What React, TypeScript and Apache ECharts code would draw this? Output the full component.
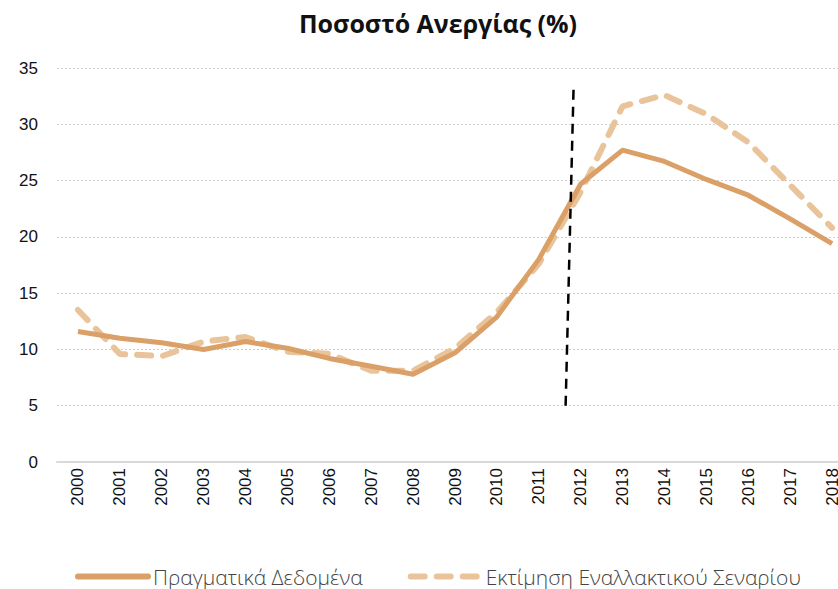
import React, { useEffect, useRef } from "react";
import * as echarts from "echarts";

const years = ["2000","2001","2002","2003","2004","2005","2006","2007","2008","2009","2010","2011","2012","2013","2014","2015","2016","2017","2018"];
const actual = [11.6, 11.0, 10.6, 10.0, 10.7, 10.1, 9.2, 8.5, 7.8, 9.7, 12.9, 18.0, 24.7, 27.7, 26.7, 25.1, 23.7, 21.6, 19.4];
const scenario = [13.5, 9.6, 9.4, 10.7, 11.1, 9.8, 9.6, 8.1, 8.1, 10.1, 13.3, 17.6, 24.0, 31.6, 32.6, 30.9, 28.4, 24.6, 20.8];
// vertical separator (x as fractional category index, y value)
const separator = [[11.64, 5.0], [11.83, 33.2]];
const titleText = "Ποσοστό Ανεργίας (%)";
const seriesNames = ["Πραγματικά Δεδομένα", "Εκτίμηση Εναλλακτικού Σεναρίου"];

export default function App() {
  const ref = useRef<HTMLDivElement>(null);
  useEffect(() => {
    const chart = echarts.init(ref.current!, null, { renderer: "svg" });
    chart.setOption({
      animation: false,
      backgroundColor: "#ffffff",
      title: {
        text: titleText,
        left: 433,
        textAlign: "center",
        top: 5,
        textStyle: { fontFamily: "Open Sans", fontWeight: "bold", fontSize: 25, color: "#111" },
      },
      legend: {
        left: 75,
        top: 566,
        padding: 0,
        itemWidth: 70,
        itemHeight: 14,
        itemGap: 45,
        itemStyle: { opacity: 0 },
        lineStyle: { width: 6, cap: "round" },
        textStyle: { fontFamily: "Open Sans", fontWeight: 300, fontSize: 21, lineHeight: 20, color: "#444" },
        data: seriesNames,
      },
      grid: { left: 57, top: 68, width: 796, bottom: 127, containLabel: false, outerBoundsMode: "none" },
      xAxis: [
        {
          type: "category",
          data: years,
          boundaryGap: true,
          axisLine: { lineStyle: { color: "#d9d9d9", width: 2 } },
          axisTick: { show: false },
          axisLabel: { rotate: 90, fontFamily: "Liberation Sans", fontSize: 17, color: "#111", margin: 6 },
        },
        {
          type: "value",
          min: -0.5,
          max: 18.5,
          show: false,
        },
      ],
      yAxis: {
        type: "value",
        min: 0,
        max: 35,
        interval: 5,
        axisLine: { show: false },
        axisTick: { show: false },
        axisLabel: { fontFamily: "Liberation Sans", fontSize: 17, color: "#111", margin: 19 },
        splitLine: { lineStyle: { color: "#cfcfcf", type: [2, 2], width: 1 } },
      },
      series: [
        {
          name: seriesNames[0],
          type: "line",
          data: actual,
          symbol: "none",
          z: 3,
          lineStyle: { color: "#DBA067", width: 5 },
          itemStyle: { color: "#DBA067" },
        },
        {
          name: seriesNames[1],
          type: "line",
          data: scenario,
          symbol: "none",
          z: 2,
          lineStyle: { color: "#E9C39A", width: 6, type: [14, 12], cap: "round" },
          itemStyle: { color: "#E9C39A" },
        },
        {
          name: "sep",
          type: "line",
          xAxisIndex: 1,
          data: separator,
          symbol: "none",
          z: 4,
          lineStyle: { color: "#000", width: 2.5, type: [10, 7] },
        },
      ],
    });
    return () => chart.dispose();
  }, []);
  return <div ref={ref} style={{ width: 838, height: 589, position: "absolute", left: 0, top: 0 }} />;
}
